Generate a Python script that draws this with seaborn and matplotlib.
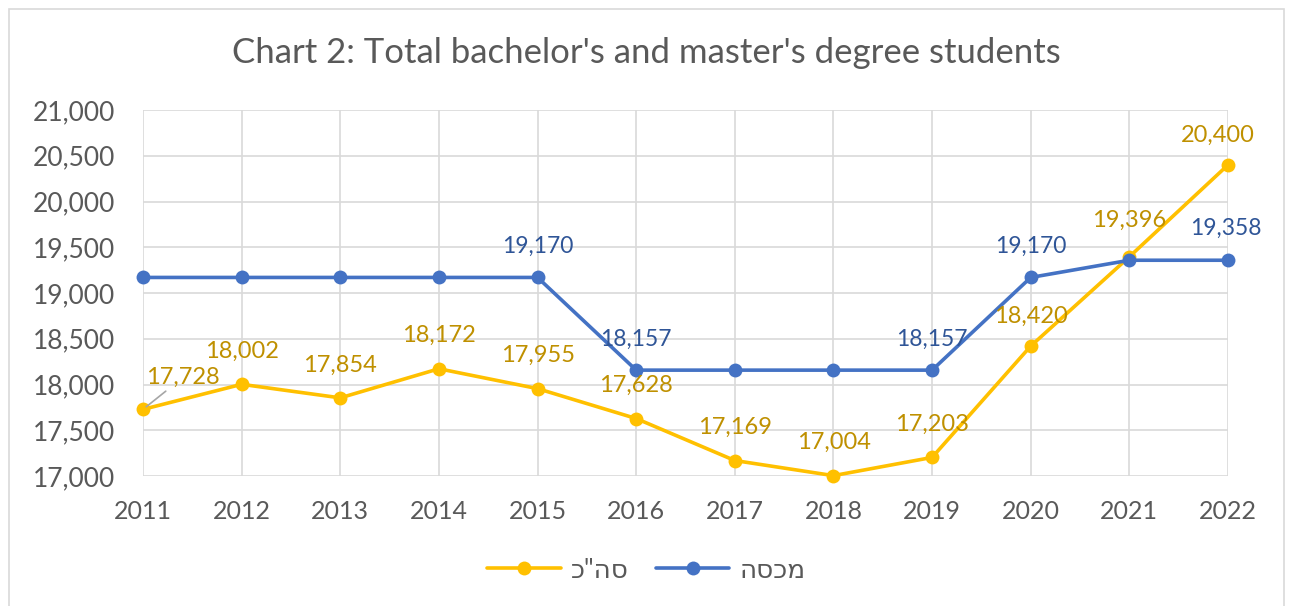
import matplotlib
matplotlib.use("Agg")
import matplotlib.pyplot as plt
import matplotlib.ticker as mticker
from matplotlib.patches import Rectangle
import seaborn as sns
import pandas as pd

years = [2011, 2012, 2013, 2014, 2015, 2016, 2017, 2018, 2019, 2020, 2021, 2022]
total = [17728, 18002, 17854, 18172, 17955, 17628, 17169, 17004, 17203, 18420, 19396, 20400]
quota = [19170, 19170, 19170, 19170, 19170, 18157, 18157, 18157, 18157, 19170, 19358, 19358]
total_name = 'סה"כ'
quota_name = "מכסה"
title = "Chart 2: Total bachelor's and master's degree students"

# which points of the quota series carry a label
quota_labelled = [2015, 2016, 2019, 2020, 2022]

# label offsets in pixels (dx, dy)
total_offsets = {2011: (40, 32), 2020: (0, 30), 2021: (0, 36), 2022: (-10, 30)}
quota_offsets = {2022: (-2, 32)}

YELLOW = "#FFC000"
YELLOW_TXT = "#BF9000"
BLUE = "#4472C4"
BLUE_TXT = "#2F5597"
GREY_TXT = "#595959"
GRID = "#D9D9D9"

sns.set_theme(style="whitegrid")
plt.rcParams["font.family"] = ["Lato", "DejaVu Sans"]


def rtl(s):
    # matplotlib draws left to right, so Hebrew is reversed for display
    return s[::-1]


df = pd.DataFrame({"year": years + years,
                   "value": total + quota,
                   "series": [rtl(total_name)] * len(years) + [rtl(quota_name)] * len(years)})

fig = plt.figure(figsize=(12.93, 6.06), dpi=100)
ax = fig.add_axes([143 / 1293, 1 - 476 / 606, (1228 - 143) / 1293, (476 - 110) / 606])

sns.lineplot(data=df, x="year", y="value", hue="series",
             palette={rtl(total_name): YELLOW, rtl(quota_name): BLUE},
             marker="o", markersize=10, markeredgewidth=0, linewidth=2.6,
             ax=ax, legend=False, clip_on=False, zorder=3)

ax.set_xlim(2011, 2022)
ax.set_ylim(17000, 21000)
ax.set_xticks(years)
ax.set_yticks(range(17000, 21001, 500))
ax.yaxis.set_major_formatter(mticker.StrMethodFormatter("{x:,.0f}"))
ax.set_xlabel("")
ax.set_ylabel("")
ax.grid(True, color=GRID, linewidth=1.2)
for s in ax.spines.values():
    s.set_visible(False)
ax.tick_params(axis="y", length=0, pad=20, labelsize=19, labelcolor=GREY_TXT)
ax.tick_params(axis="x", length=0, pad=17, labelsize=18, labelcolor=GREY_TXT)

for yr, v in zip(years, total):
    dx, dy = total_offsets.get(yr, (0, 33))
    kw = {}
    if yr == 2011:
        kw["arrowprops"] = dict(arrowstyle="-", color="#A6A6A6", lw=1.2,
                                shrinkA=0, shrinkB=3)
    ax.annotate(f"{v:,}", (yr, v), xytext=(dx, dy), textcoords="offset pixels",
                ha="center", va="center", fontsize=17, color=YELLOW_TXT,
                annotation_clip=False, **kw)

for yr, v in zip(years, quota):
    if yr not in quota_labelled:
        continue
    dx, dy = quota_offsets.get(yr, (0, 31))
    ax.annotate(f"{v:,}", (yr, v), xytext=(dx, dy), textcoords="offset pixels",
                ha="center", va="center", fontsize=16.5, color=BLUE_TXT,
                annotation_clip=False)

fig.text(0.5, 1 - 53 / 606, title, ha="center", va="center", fontsize=25, color=GREY_TXT)

handles = [plt.Line2D([], [], color=YELLOW, marker="o", markersize=10, markeredgewidth=0, lw=2.6),
           plt.Line2D([], [], color=BLUE, marker="o", markersize=10, markeredgewidth=0, lw=2.6)]
fig.legend(handles, [rtl(total_name), rtl(quota_name)], loc="center",
           bbox_to_anchor=(0.5, 1 - 570 / 606), ncol=2, frameon=False,
           fontsize=19, labelcolor=GREY_TXT, handlelength=2.8, columnspacing=1.0,
           handletextpad=0.4)

fig.patches.append(Rectangle((9 / 1293, -0.05), 1275 / 1293, 1.05 - 9 / 606,
                             transform=fig.transFigure, fill=False,
                             edgecolor=GRID, linewidth=1.2))

fig.savefig("out.png", dpi=100)
